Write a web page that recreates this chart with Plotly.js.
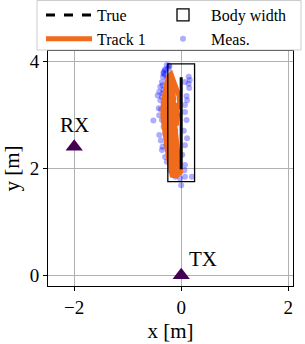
<!DOCTYPE html>
<html><head><meta charset="utf-8">
<script src="https://cdn.plot.ly/plotly-3.0.1.min.js"></script>
<style>html,body{margin:0;padding:0;background:#fff}</style>
</head><body><div id="chart" style="width:305px;height:344px"></div>
<script>
// Ground truth path
const trueX = [0, 0];
const trueY = [1.98, 3.70];
// Body width box (x0, x1, y0, y1)
const bodyX = [-0.25, 0.25];
const bodyY = [1.75, 3.95];
// Track 1
const trackX = [-0.04,-0.10,-0.17,-0.20,-0.23,-0.26,-0.29,-0.32,-0.34,-0.34,-0.32,-0.28,-0.23,-0.19,
  -0.14,-0.10,-0.04,-0.03,-0.09,-0.13,-0.11,-0.09,-0.08,-0.07,-0.04,-0.01,-0.06,
  -0.12,-0.16,-0.19,-0.22,-0.25,-0.23,-0.20,-0.23,
  -0.18,-0.14,-0.18,-0.20,-0.17,-0.14,-0.10,
  -0.14,-0.22,-0.27,-0.29,-0.28,-0.25,-0.20,-0.16,-0.10,-0.07,-0.09];
const trackY = [1.95,1.86,1.87,1.98,2.15,2.35,2.55,2.75,2.95,3.15,3.35,3.55,3.72,3.76,
  3.62,3.48,3.35,3.22,3.08,2.90,2.72,2.55,2.38,2.20,2.05,1.93,1.88,
  1.95,2.20,2.45,2.70,2.95,3.20,3.45,3.65,
  3.50,3.30,3.05,2.80,2.55,2.30,2.05,
  2.25,2.60,2.90,3.10,3.30,3.50,3.40,3.25,3.15,3.00,2.80];
// Measurements
const measX = [-0.27,-0.30,-0.33,-0.24,-0.34,-0.27,-0.36,-0.39,-0.41,-0.33,-0.36,-0.44,0.14,0.07,0.14,0.11,0.07,0.07,
  -0.42,-0.41,-0.52,-0.36,-0.33,-0.11,-0.41,-0.38,0.11,0.07,-0.36,-0.30,-0.27,0.07,0.06,0.07,-0.02,0.20,0.00,-0.21,-0.11,
  -0.33,-0.39,-0.30,-0.21,
  -0.20,-0.15,-0.25,-0.18,-0.22,-0.15,-0.28,-0.20,-0.12,-0.05,0.02,0.05,0.10,0.15,0.10,-0.30,-0.22,-0.35,-0.38,-0.30,-0.35,0.16,
  -0.33,-0.31,-0.35,-0.29,-0.27,-0.25,-0.23,-0.31,-0.26];
const measY = [3.93,3.83,3.77,3.86,3.71,3.68,3.61,3.52,3.43,3.46,3.33,3.36,3.71,3.61,3.58,3.27,3.18,3.05,
  3.12,2.99,2.89,2.90,2.77,2.71,2.62,2.52,2.56,2.43,2.34,2.21,2.12,2.06,1.96,1.84,1.81,1.84,1.68,1.96,1.84,
  3.21,3.27,3.02,2.59,
  3.55,3.40,3.20,3.00,2.80,2.60,2.45,2.30,2.15,2.00,2.25,2.70,2.90,3.50,3.35,3.85,3.90,3.55,3.10,2.65,2.40,3.65,
  3.80,3.75,3.40,3.42,3.25,2.98,3.92,2.85,2.40];
// Antennas
const antX = [-2, 0];
const antY = [2.4, 0];
const antLabels = ['RX', 'TX'];

const F = 'Liberation Serif, DejaVu Serif, serif';
const W = 305, H = 344, ML = 48, MR = 12, MT = 51, MB = 58;
const PW = W - ML - MR, PH = H - MT - MB;
const px2x = p => (p - ML) / PW;
const py2y = p => (H - MB - p) / PH;

const traces = [
  {x: measX, y: measY, mode: 'markers', name: 'Meas.', legend: 'legend2',
   marker: {color: 'rgba(0,0,255,0.32)', size: 6}},
  {x: trackX, y: trackY, mode: 'lines', name: 'Track 1', legend: 'legend', legendrank: 2,
   line: {color: '#f06b1c', width: 5}},
  {x: trueX, y: trueY, mode: 'lines', name: 'True', showlegend: false,
   line: {color: 'black', width: 3}},
  {x: [null], y: [null], mode: 'lines', name: 'True', legend: 'legend', legendrank: 1,
   line: {color: 'black', width: 3, dash: 'dash'}},
  {x: antX, y: antY, mode: 'markers', showlegend: false,
   marker: {symbol: 'triangle-up', size: 15, color: '#440154'}}
];
const legBase = {orientation: 'v', xanchor: 'left', yanchor: 'top', y: py2y(-2),
  bgcolor: 'rgba(0,0,0,0)', borderwidth: 0, itemwidth: 46,
  font: {family: F, size: 16}, traceorder: 'normal'};
const layout = {
  width: W, height: H,
  margin: {l: ML, r: MR, t: MT, b: MB, autoexpand: false},
  paper_bgcolor: 'white', plot_bgcolor: 'white',
  font: {family: F, size: 18, color: 'black'},
  showlegend: true,
  legend: Object.assign({}, legBase, {x: px2x(41)}),
  legend2: Object.assign({}, legBase, {x: px2x(155)}),
  shapes: [
    {type: 'rect', xref: 'paper', yref: 'paper', x0: px2x(37), x1: px2x(301), y0: py2y(50), y1: py2y(0.5),
     line: {color: '#cccccc', width: 1}, fillcolor: 'white', layer: 'above'},
    {type: 'rect', xref: 'x', yref: 'y', x0: bodyX[0], x1: bodyX[1], y0: bodyY[0], y1: bodyY[1],
     line: {color: 'black', width: 1.3}, fillcolor: 'rgba(0,0,0,0)', layer: 'above',
     showlegend: true, name: 'Body width', legend: 'legend2', legendrank: 1}
  ],
  xaxis: {range: [-2.49, 2.09], dtick: 2, tick0: 0, showgrid: true, gridcolor: '#b0b0b0', gridwidth: 1,
    zeroline: false, showline: true, linecolor: 'black', linewidth: 1, mirror: true,
    ticks: 'outside', ticklen: 4, tickcolor: 'black', tickfont: {family: F, size: 19},
    title: {text: 'x [m]', font: {family: F, size: 21}, standoff: 6}},
  yaxis: {range: [-0.2, 4.19], dtick: 2, tick0: 0, showgrid: true, gridcolor: '#b0b0b0', gridwidth: 1,
    zeroline: false, showline: true, linecolor: 'black', linewidth: 1, mirror: true,
    ticks: 'outside', ticklen: 4, tickcolor: 'black', tickfont: {family: F, size: 19},
    title: {text: 'y [m]', font: {family: F, size: 21}, standoff: 6}},
  annotations: [
    {x: antX[0], y: antY[0], text: antLabels[0], showarrow: false, xanchor: 'center', yanchor: 'bottom', yshift: 8,
     font: {family: F, size: 21}},
    {x: antX[1], y: antY[1], text: antLabels[1], showarrow: false, xanchor: 'left', yanchor: 'bottom', xshift: 6, yshift: 2,
     font: {family: F, size: 21}}
  ]
};
Plotly.newPlot('chart', traces, layout, {displayModeBar: false, staticPlot: true});
</script></body></html>
